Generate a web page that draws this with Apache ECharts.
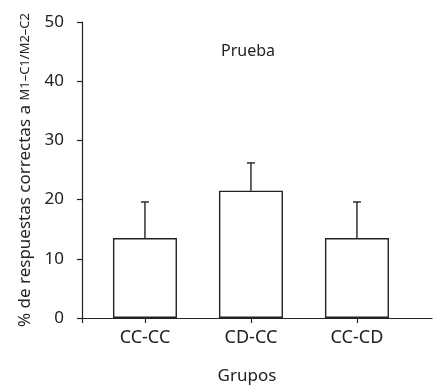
<!DOCTYPE html>
<html>
<head>
<meta charset="utf-8">
<script src="https://cdn.jsdelivr.net/npm/echarts@6/dist/echarts.min.js"></script>
<style>
  html, body { margin: 0; padding: 0; background: #fff; }
  #chart { width: 433px; height: 385px; }
</style>
</head>
<body>
<div id="chart"></div>
<script>
// datos
var grupos = ["CC-CC", "CD-CC", "CC-CD"];
var medias = [13.5, 21.5, 13.5];
var errores = [6.1, 4.7, 6.1];
var yTicks = [0, 10, 20, 30, 40, 50];

var chart = echarts.init(document.getElementById("chart"));
var font = "Noto Sans";

var barData = medias.map(function (v, i) { return [i, v]; });
var errData = medias.map(function (v, i) { return [i, v, v + errores[i]]; });

var option = {
  animation: false,
  textStyle: { fontFamily: font, color: "#222" },
  title: {
    text: "Prueba",
    left: 216,
    top: 38,
    textStyle: { fontFamily: font, fontWeight: "normal", fontSize: 16, color: "#222" },
  },
  grid: { left: 82, right: 1, top: 22, bottom: 67, outerBoundsMode: "none" },
  xAxis: {
    type: "value",
    min: -0.594,
    max: 2.708,
    name: "Grupos",
    nameLocation: "middle",
    nameGap: 50,
    nameTextStyle: { fontFamily: font, fontSize: 17, color: "#222", padding: [0, 20, 0, 0] },
    axisLine: { show: true, onZero: false, lineStyle: { color: "#222", width: 1.2 } },
    splitLine: { show: false },
    axisTick: { show: true, length: 5, customValues: [-0.594, 0, 1, 2], lineStyle: { color: "#222", width: 1.2 } },
    axisLabel: {
      customValues: [0, 1, 2],
      margin: 11,
      fontSize: 18,
      color: "#222",
      fontFamily: font,
      formatter: function (v) { return grupos[Math.round(v)] || ""; },
    },
  },
  yAxis: {
    type: "value",
    min: yTicks[0],
    max: yTicks[yTicks.length - 1],
    interval: 10,
    name: "{a|% de respuestas correctas a }{b|M1–C1/M2–C2}",
    nameLocation: "middle",
    nameGap: 48,
    nameRotate: 90,
    nameTextStyle: {
      fontFamily: font,
      color: "#222",
      rich: {
        a: { fontSize: 17, fontFamily: font, color: "#222" },
        b: { fontSize: 13, fontFamily: font, color: "#222" },
      },
    },
    axisLine: { show: true, onZero: false, lineStyle: { color: "#222", width: 1.2 } },
    axisTick: { show: true, length: 5, lineStyle: { color: "#222", width: 1.2 } },
    splitLine: { show: false },
    axisLabel: { margin: 18, fontSize: 17, color: "#222", fontFamily: font },
  },
  series: [
    {
      type: "bar",
      barWidth: 64,
      data: barData,
      itemStyle: { color: "#fff", borderColor: "#222", borderWidth: 1.4 },
      z: 2,
    },
    {
      type: "custom",
      data: errData,
      z: 1,
      renderItem: function (params, api) {
        var base = api.coord([api.value(0), api.value(1)]);
        var top = api.coord([api.value(0), api.value(2)]);
        var cap = 4;
        return {
          type: "group",
          children: [
            { type: "line", shape: { x1: base[0], y1: base[1], x2: top[0], y2: top[1] }, style: { stroke: "#222", lineWidth: 1.4 } },
            { type: "line", shape: { x1: top[0] - cap, y1: top[1], x2: top[0] + cap, y2: top[1] }, style: { stroke: "#222", lineWidth: 1.4 } },
          ],
        };
      },
    },
  ],
};
chart.setOption(option);
</script>
</body>
</html>
